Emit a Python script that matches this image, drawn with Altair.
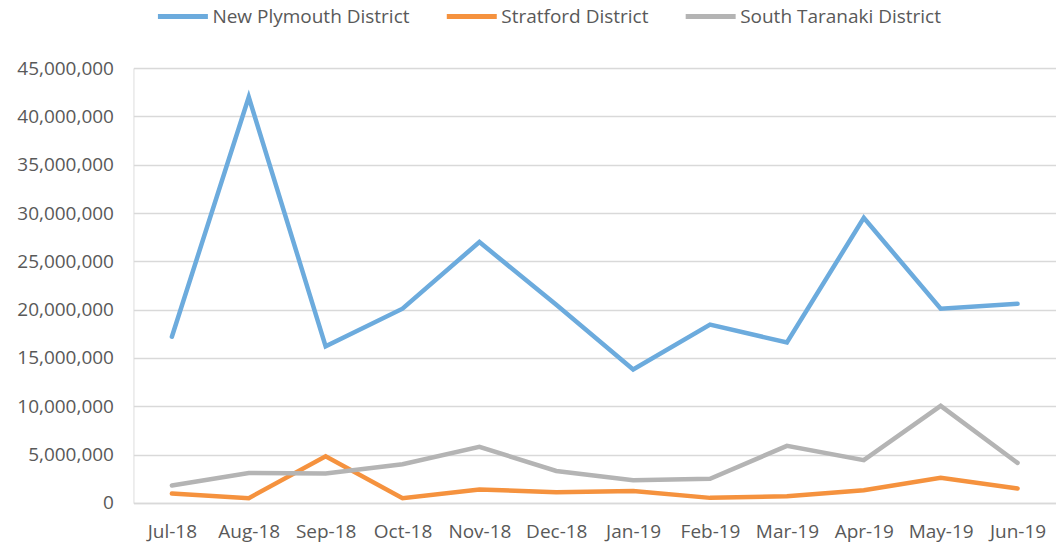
import altair as alt
import pandas as pd

months = ["Jul-18", "Aug-18", "Sep-18", "Oct-18", "Nov-18", "Dec-18",
          "Jan-19", "Feb-19", "Mar-19", "Apr-19", "May-19", "Jun-19"]
series_names = ["New Plymouth District", "Stratford District", "South Taranaki District"]
new_plymouth = [17200000, 42000000, 16200000, 20100000, 27000000, 20500000,
                13800000, 18450000, 16600000, 29500000, 20100000, 20600000]
stratford = [970000, 490000, 4830000, 490000, 1390000, 1100000,
             1240000, 520000, 690000, 1310000, 2590000, 1490000]
south_taranaki = [1800000, 3100000, 3040000, 4000000, 5800000, 3300000,
                  2350000, 2500000, 5900000, 4420000, 10040000, 4140000]
colors = ["#6CABDD", "#F5923E", "#B4B4B4"]
y_ticks = list(range(0, 45000001, 5000000))

rows = []
for name, vals in zip(series_names, [new_plymouth, stratford, south_taranaki]):
    for m, v in zip(months, vals):
        rows.append({"Month": m, "Series": name, "Value": v})
df = pd.DataFrame(rows)

FONT = "Open Sans"
FS = 19

chart = alt.Chart(df).mark_line(strokeWidth=4.5, strokeCap="round", strokeJoin="miter").encode(
    x=alt.X("Month:N", sort=months,
            scale=alt.Scale(type="point", padding=0.5),
            axis=alt.Axis(title=None, labelAngle=0, ticks=False, grid=False,
                          domain=True, domainColor="#d9d9d9", domainWidth=1.5,
                          labelFont=FONT, labelFontSize=FS, labelColor="#595959",
                          labelPadding=20)),
    y=alt.Y("Value:Q", scale=alt.Scale(domain=[0, 45000000], nice=False),
            axis=alt.Axis(title=None, values=y_ticks, format=",.0f", ticks=False,
                          domain=False, grid=True, gridColor="#d9d9d9", gridWidth=1.5,
                          labelFont=FONT, labelFontSize=FS, labelColor="#595959",
                          labelPadding=20)),
    color=alt.Color("Series:N", sort=series_names,
                    scale=alt.Scale(domain=series_names, range=colors),
                    legend=alt.Legend(title=None, orient="none", direction="horizontal",
                                      legendX=34.5, legendY=-66.5,
                                      symbolType="M-2,0L2,0", symbolSize=625,
                                      symbolStrokeWidth=5,
                                      labelFont=FONT, labelFontSize=FS,
                                      labelLimit=0,
                                      labelColor="#595959", labelOffset=14.5,
                                      columnPadding=27)),
    order=alt.Order("Series:N"),
).properties(
    width=923, height=435,
    autosize=alt.AutoSizeParams(type="none"),
    padding={"left": 125.5, "top": 60, "right": 0, "bottom": 40},
).configure_view(stroke=None).configure(background="white")

chart.save("out.html", embed_options={"renderer": "svg", "actions": False})
